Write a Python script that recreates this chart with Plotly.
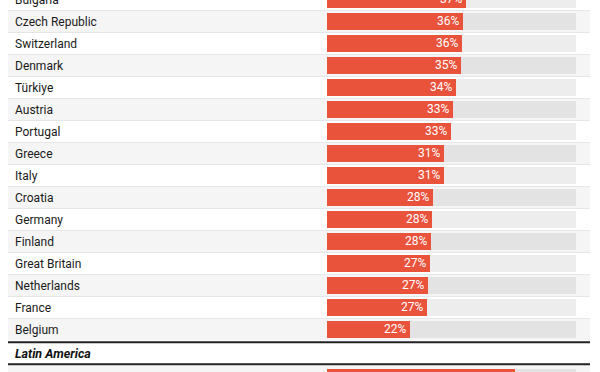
import plotly.graph_objects as go

# ---- data ----
countries = ["Bulgaria", "Czech Republic", "Switzerland", "Denmark", "Türkiye", "Austria",
             "Portugal", "Greece", "Italy", "Croatia", "Germany", "Finland",
             "Great Britain", "Netherlands", "France", "Belgium"]
values = [36.9, 36.0, 35.8, 35.5, 34.1, 33.4, 32.9, 31.0, 31.0, 28.0, 27.7, 27.5,
          27.2, 26.8, 26.5, 21.9]
labels = ["37%", "36%", "36%", "35%", "34%", "33%", "33%", "31%", "31%", "28%", "28%",
          "28%", "27%", "27%", "27%", "22%"]
next_section = "Latin America"
next_values = [49.7]
track_max = 66

# ---- style ----
RED = "#e9523b"
TRACK = "rgba(0,0,0,0.07)"
ROW_GRAY = "#f5f5f5"
SEP = "#e6e6e6"
W, H = 600, 372
FONT = "Roboto"
PX = 22.0  # pixels per row unit

# row positions (row units, one row = 22px)
eu_y = list(range(len(countries)))
line1_y = len(countries) - 0.42
header_y = line1_y + 0.5
line2_y = line1_y + 1.0
next_y = [line2_y + 0.62 + k for k in range(len(next_values))]

all_y = eu_y + next_y
all_x = values + next_values

y_top = 0.5 / PX
y_bot = (H + 0.5) / PX

fig = go.Figure()
fig.add_trace(go.Bar(
    y=all_y, x=[track_max] * len(all_y), orientation="h", width=0.8,
    marker=dict(color=TRACK, line=dict(width=0)), hoverinfo="skip",
))
fig.add_trace(go.Bar(
    y=all_y, x=all_x, orientation="h", width=0.8,
    marker=dict(color=RED, line=dict(width=0)), textposition="none",
))

x0p, x1p = 8 / W, 590 / W
shapes = []
for i in eu_y:
    if i % 2 == 1:
        shapes.append(dict(type="rect", xref="paper", yref="y", x0=x0p, x1=x1p,
                           y0=i - 0.5, y1=i + 0.5, fillcolor=ROW_GRAY,
                           line=dict(width=0), layer="below"))
for i in eu_y[:-1]:
    shapes.append(dict(type="line", xref="paper", yref="y", x0=x0p, x1=x1p,
                       y0=i + 0.5, y1=i + 0.5, line=dict(color=SEP, width=1),
                       layer="below"))
for y in next_y:
    shapes.append(dict(type="rect", xref="paper", yref="y", x0=x0p, x1=x1p,
                       y0=y - 0.55, y1=y + 0.5, fillcolor=ROW_GRAY,
                       line=dict(width=0), layer="below"))
for ly in (line1_y, line2_y):
    shapes.append(dict(type="line", xref="paper", yref="y", x0=x0p, x1=x1p,
                       y0=ly, y1=ly, line=dict(color="#222222", width=2)))


def clamp(y):
    ya = max(y, y_top + 0.02)          # keep anchor inside the axis range
    return ya, (ya - y) * PX           # shift back up to the true row centre


annotations = []
for name, val, lab, y in zip(countries, values, labels, eu_y):
    ya, shift = clamp(y)
    annotations.append(dict(text=name, xref="paper", yref="y", x=13 / W, y=ya,
                            yshift=shift, xanchor="left", yanchor="middle",
                            showarrow=False,
                            font=dict(family=FONT, size=12, color="#1a1a1a")))
    annotations.append(dict(text=lab, xref="x", yref="y", x=val, y=ya,
                            yshift=shift + 0.5, xshift=-2, xanchor="right",
                            yanchor="middle", showarrow=False,
                            font=dict(family=FONT, size=12, color="white")))
annotations.append(dict(text="<b><i>" + next_section + "</i></b>", xref="paper", yref="y",
                        x=13 / W, y=header_y, xanchor="left", yanchor="middle",
                        showarrow=False,
                        font=dict(family=FONT, size=12.5, color="#111111")))

fig.update_layout(
    width=W, height=H, margin=dict(l=0, r=0, t=0, b=0),
    paper_bgcolor="white", plot_bgcolor="white",
    barmode="overlay", bargap=0, showlegend=False,
    shapes=shapes, annotations=annotations,
    xaxis=dict(domain=[327 / W, 576 / W], range=[0, track_max], visible=False,
               fixedrange=True),
    yaxis=dict(range=[y_bot, y_top], visible=False, fixedrange=True),
)

fig.write_html("out.html", config={"displayModeBar": False},
               post_script="document.body.style.margin='0px';")
